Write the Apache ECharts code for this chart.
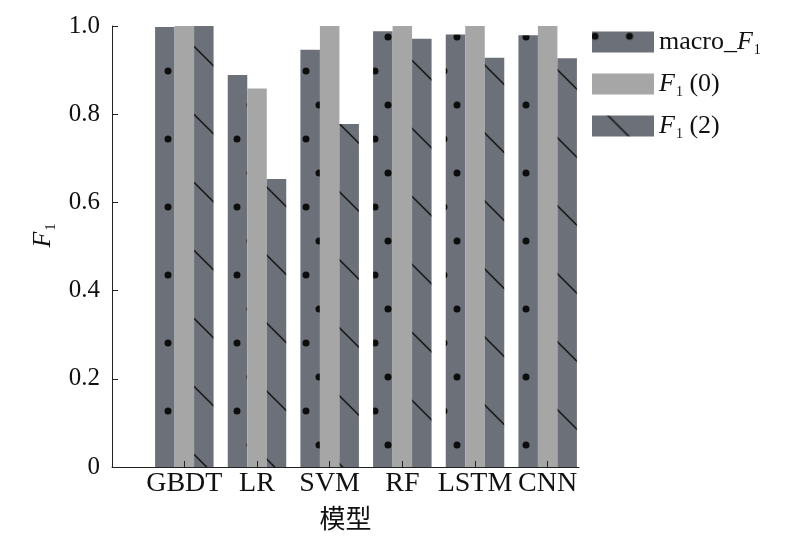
<!DOCTYPE html>
<html><head><meta charset="utf-8">
<script src="https://cdn.jsdelivr.net/npm/echarts@6/dist/echarts.min.js"></script>
<style>html,body{margin:0;padding:0;background:#fff}#c{width:800px;height:537px}</style>
</head><body><div id="c"></div>
<script>
const categories = ['GBDT', 'LR', 'SVM', 'RF', 'LSTM', 'CNN'];
const macroF1  = [0.998, 0.889, 0.946, 0.988, 0.981, 0.979];
const f1Class0 = [1.0, 0.858, 1.0, 1.0, 1.0, 1.0];
const f1Class2 = [1.0, 0.653, 0.778, 0.971, 0.928, 0.927];
const seriesNames = ['macro_F1', 'F1 (0)', 'F1 (2)'];
const legendLabels = ['{t|macro_}{i|F}{s|1}', '{i|F}{s|1}{t| (0)}', '{i|F}{s|1}{t| (2)}'];
const yMin = 0, yMax = 1, yStep = 0.2;

const DARK = '#6c7078', LIGHT = '#a6a6a6', INK = '#111';
const SERIF = 'Liberation Serif';

function dotTile() {
  const c = document.createElement('canvas'); c.width = 69; c.height = 68;
  const g = c.getContext('2d');
  g.fillStyle = DARK; g.fillRect(0, 0, 69, 68);
  g.fillStyle = '#0d0d0d';
  const pts = [[30, 3], [64.5, 3], [8.5, 37], [43, 37]];
  for (const [x, y] of pts) for (const dx of [-69, 0, 69]) for (const dy of [-68, 0, 68]) {
    g.beginPath(); g.arc(x + dx, y + dy, 3.5, 0, Math.PI * 2); g.fill();
  }
  return c;
}
function hatchTile() {
  const c = document.createElement('canvas'); c.width = 68; c.height = 68;
  const g = c.getContext('2d');
  g.fillStyle = DARK; g.fillRect(0, 0, 68, 68);
  g.strokeStyle = '#1a1a1a'; g.lineWidth = 1.6;
  for (let k = -3; k <= 3; k++) {
    const b = 56.3 + 68 * k;
    g.beginPath(); g.moveTo(-20, -20 + b); g.lineTo(90, 90 + b); g.stroke();
  }
  return c;
}
const dotC = dotTile(), hatchC = hatchTile();

const rich = {
  t: { fontFamily: SERIF, fontSize: 26, color: INK, lineHeight: 30 },
  i: { fontFamily: SERIF, fontSize: 26, fontStyle: 'italic', color: INK, lineHeight: 30 },
  s: { fontFamily: SERIF, fontSize: 14, color: INK, verticalAlign: 'bottom', lineHeight: 17, padding: [0, 0, 0, 1] }
};

const chart = echarts.init(document.getElementById('c'), null, { renderer: 'canvas' });
chart.setOption({
  animation: false,
  backgroundColor: '#fff',
  grid: [
    { left: 148, right: 216, top: 26, bottom: 70 },
    { left: 112, right: 221, top: 26, bottom: 70 }
  ],
  legend: {
    orient: 'vertical', left: 592, top: 29, padding: 0,
    itemWidth: 62, itemHeight: 21, itemGap: 14, icon: 'rect',
    textStyle: { fontFamily: SERIF, fontSize: 26, color: INK, rich: rich },
    formatter: n => legendLabels[seriesNames.indexOf(n)],
    data: [
      { name: seriesNames[0], itemStyle: { color: { image: dotC, repeat: 'repeat', x: -5.5, y: -32.3 } } },
      { name: seriesNames[1] },
      { name: seriesNames[2], itemStyle: { color: { image: hatchC, repeat: 'repeat', x: 4.3, y: 0 } } }
    ]
  },
  xAxis: [
    {
      type: 'category', gridIndex: 0, data: categories, z: 10,
      axisLine: { show: false },
      axisTick: { show: true, inside: true, length: 6, alignWithLabel: true, lineStyle: { color: '#222', width: 1 } },
      axisLabel: { fontFamily: SERIF, fontSize: 28, color: INK, margin: 3, interval: 0 }
    },
    {
      type: 'value', gridIndex: 1, min: 0, max: 1, z: 10,
      axisLine: { show: true, lineStyle: { color: '#222', width: 1 } },
      axisTick: { show: false }, axisLabel: { show: false }, splitLine: { show: false },
      name: '模型', nameLocation: 'middle', nameGap: 38,
      nameTextStyle: { fontFamily: 'Noto Sans CJK SC', fontSize: 26, color: INK }
    }
  ],
  yAxis: [
    { type: 'value', gridIndex: 0, min: yMin, max: yMax, interval: yStep, show: false },
    {
      type: 'value', gridIndex: 1, min: yMin, max: yMax, interval: yStep, z: 10,
      axisLine: { show: true, lineStyle: { color: '#222', width: 1 } },
      axisTick: { show: true, inside: true, length: 6, lineStyle: { color: '#222', width: 1 } },
      axisLabel: { fontFamily: SERIF, fontSize: 25, color: INK, margin: 12,
        formatter: v => v === 0 ? '0' : v.toFixed(1) },
      splitLine: { show: false },
      name: '{i|F}{s|1}', nameLocation: 'middle', nameGap: 45,
      nameTextStyle: { rich: rich, padding: [0, 0, 0, 22] }
    }
  ],
  series: [
    { name: seriesNames[0], type: 'bar', xAxisIndex: 0, yAxisIndex: 0, data: macroF1,
      barWidth: 19.5, barGap: '0%', itemStyle: { color: { image: dotC, repeat: 'repeat' } } },
    { name: seriesNames[1], type: 'bar', xAxisIndex: 0, yAxisIndex: 0, data: f1Class0,
      barWidth: 19.5, barGap: '0%', itemStyle: { color: LIGHT } },
    { name: seriesNames[2], type: 'bar', xAxisIndex: 0, yAxisIndex: 0, data: f1Class2,
      barWidth: 19.5, barGap: '0%', itemStyle: { color: { image: hatchC, repeat: 'repeat' } } }
  ]
});
</script>
</body></html>
